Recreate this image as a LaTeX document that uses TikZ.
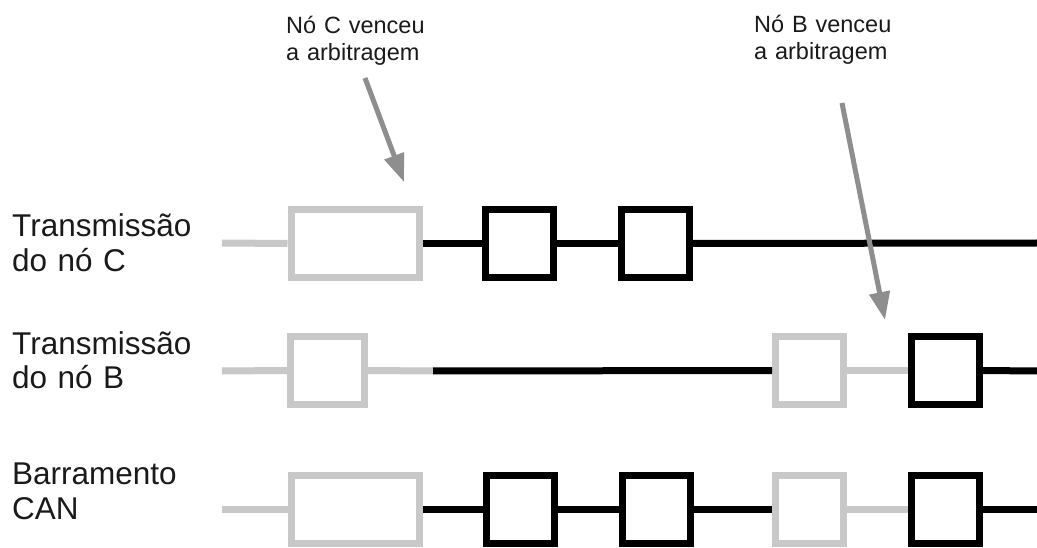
\documentclass[tikz,border=0pt]{standalone}
\usepackage{fontspec}
\setmainfont{Liberation Sans}
\usetikzlibrary{arrows.meta}
\definecolor{lightg}{HTML}{C8C8C8}
\definecolor{arrg}{HTML}{8E8E8E}
\definecolor{txt}{HTML}{1A1A1A}
\begin{document}
\begin{tikzpicture}[x=1pt,y=-1pt,
  gbox/.style={draw=lightg,line width=7pt,minimum height=68pt,inner sep=0pt},
  kbox/.style={draw=black,line width=7pt,minimum height=68pt,inner sep=0pt},
  sq/.style={minimum width=68pt},
  wide/.style={minimum width=128pt},
  gline/.style={draw=lightg,line width=7pt},
  kline/.style={draw=black,line width=7pt},
  rowlabel/.style={anchor=base west,inner sep=0pt,text width=220pt,align=left,
    font=\fontsize{31.5}{35}\selectfont,text=txt},
  notelabel/.style={anchor=base west,inner sep=0pt,text width=200pt,align=left,
    font=\fontsize{23.5}{27}\selectfont,text=txt},
  note/.style={draw=arrg,line width=5pt,-{Triangle[width=20pt,length=28pt]}}
]
\useasboundingbox (0,0) rectangle (1037,548);

% labels
\node[rowlabel] (l1) at (12,237) {Transmissão\\do nó C};
\node[rowlabel] (l2) at (12,354) {Transmissão\\do nó B};
\node[rowlabel] (l3) at (12,484) {Barramento\\CAN};
\node[notelabel] (n1) at (286,34) {Nó C venceu\\a arbitragem};
\node[notelabel] (n2) at (754,33) {Nó B venceu\\a arbitragem};

% row 1
\coordinate (r1s) at (222,243);
\coordinate (r1e) at (1037,243);
\node[gbox,wide] (g1) at (355,243.5) {};
\node[kbox,sq] (k1) at (519.5,243.5) {};
\node[kbox,sq] (k2) at (655.5,243.5) {};
\draw[gline] (r1s) -- (g1.west);
\draw[kline] (g1.east) -- (k1.west);
\draw[kline] (k1.east) -- (k2.west);
\draw[kline] (k2.east) -- (r1e);

% row 2
\coordinate (r2s) at (222,371);
\coordinate (r2m) at (433,371);
\coordinate (r2e) at (1037,371);
\node[gbox,sq,minimum width=74pt] (g2a) at (327.5,370.5) {};
\node[gbox,sq] (g2b) at (809.5,370.5) {};
\node[kbox,sq] (k3) at (945,370.5) {};
\draw[gline] (r2s) -- (g2a.west);
\draw[gline] (g2a.east) -- (r2m);
\draw[kline] (r2m) -- (g2b.west);
\draw[gline] (g2b.east) -- (k3.west);
\draw[kline] (k3.east) -- (r2e);

% row 3
\coordinate (r3s) at (222,509);
\coordinate (r3e) at (1037,509);
\node[gbox,wide] (g3a) at (355,509) {};
\node[kbox,sq] (k4) at (520,509) {};
\node[kbox,sq] (k5) at (656,509) {};
\node[gbox,sq] (g3b) at (809.5,509) {};
\node[kbox,sq] (k6) at (945,509) {};
\draw[gline] (r3s) -- (g3a.west);
\draw[kline] (g3a.east) -- (k4.west);
\draw[kline] (k4.east) -- (k5.west);
\draw[kline] (k5.east) -- (g3b.west);
\draw[gline] (g3b.east) -- (k6.west);
\draw[kline] (k6.east) -- (r3e);

% arrows
\coordinate (a1s) at (365,78);
\coordinate (a1e) at (404,182);
\coordinate (a2s) at (842,103);
\coordinate (a2e) at (885,320);
\draw[note] (a1s) -- (a1e);
\draw[note] (a2s) -- (a2e);
\end{tikzpicture}
\end{document}
